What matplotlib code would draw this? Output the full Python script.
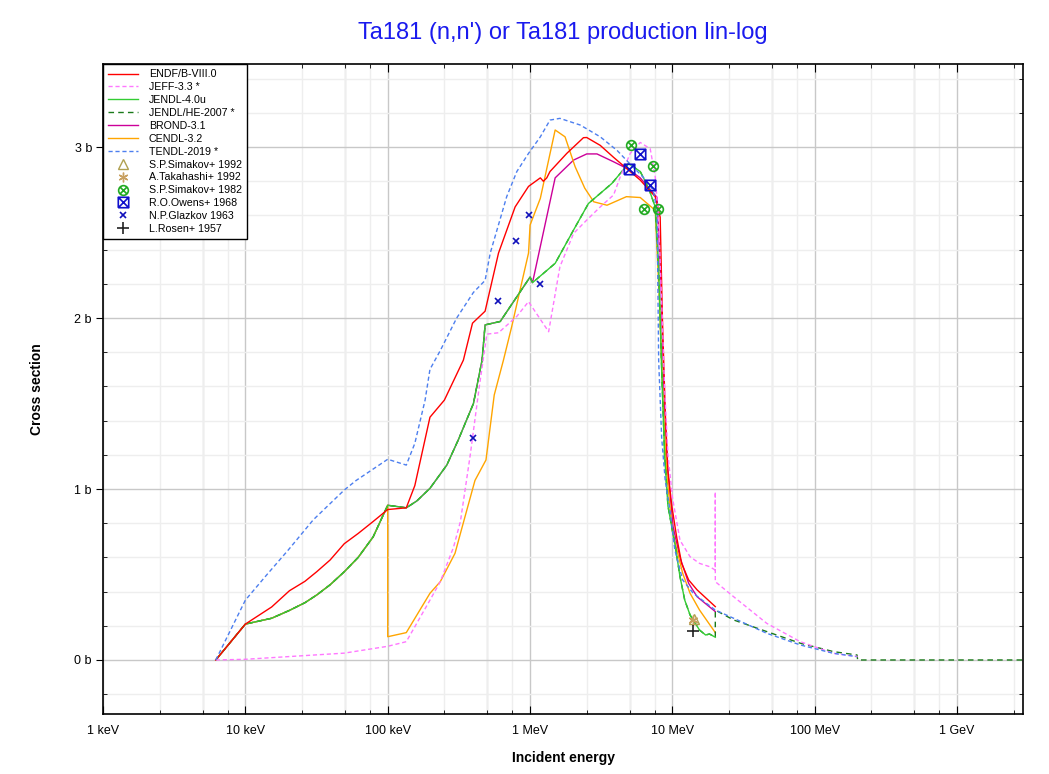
import numpy as np
import matplotlib
matplotlib.use("Agg")
import matplotlib.pyplot as plt
from matplotlib.path import Path
from matplotlib.ticker import FixedLocator, MultipleLocator, FuncFormatter

plt.rcParams['font.family'] = ['Liberation Sans', 'DejaVu Sans']

# ---------------- data (energy in eV, cross section in barn) ----------------
endf_e = [6.2e3, 1e4, 1.53e4, 2.04e4, 2.62e4, 3.17e4, 3.94e4, 4.95e4, 6.2e4, 7.9e4, 9.57e4, 1e5,
          1.35e5, 1.55e5, 1.98e5, 2.5e5, 3.4e5, 3.94e5, 4.83e5, 6.0e5, 7.85e5, 9.75e5, 1.18e6,
          1.24e6, 1.31e6, 1.38e6, 1.81e6, 2.37e6, 2.5e6, 3.11e6, 3.86e6, 4.92e6, 5.94e6, 7.57e6,
          8.2e6, 8.5e6, 8.9e6, 9.3e6, 9.9e6, 1.07e7, 1.16e7, 1.3e7, 1.49e7, 2.0e7]
endf_v = [0, 0.21, 0.31, 0.405, 0.46, 0.516, 0.585, 0.68, 0.74, 0.81, 0.867, 0.88,
          0.89, 1.02, 1.42, 1.52, 1.754, 1.97, 2.04, 2.38, 2.65, 2.77, 2.82,
          2.80, 2.82, 2.857, 2.963, 3.055, 3.056, 3.01, 2.94, 2.865, 2.807, 2.71,
          2.59, 2.0, 1.45, 1.1, 0.9, 0.72, 0.565, 0.468, 0.41, 0.312]

jeff_e = [6.2e3, 1e4, 4.95e4, 1e5, 1.35e5, 1.98e5, 2.34e5, 2.9e5, 3.24e5, 3.8e5, 4.4e5, 4.97e5,
          6.0e5, 8.07e5, 9.75e5, 1.35e6, 1.62e6, 2.02e6, 2.5e6, 3.11e6, 3.86e6, 4.3e6,
          5.05e6, 5.94e6, 6.98e6, 7.57e6, 7.97e6, 8.4e6, 8.8e6, 9.3e6, 1.0e7, 1.13e7, 1.33e7,
          1.55e7, 1.82e7, 2.0e7, 2.0e7, 2.0e7, 2.69e7, 4.6e7, 7.9e7, 1.35e8, 2.0e8]
jeff_v = [0, 0.004, 0.04, 0.08, 0.107, 0.35, 0.458, 0.66, 0.81, 1.2, 1.6, 1.906,
          1.914, 2.01, 2.096, 1.92, 2.30, 2.495, 2.573, 2.65, 2.72, 2.826,
          2.963, 3.027, 2.99, 2.826, 2.59, 2.1, 1.6, 1.2, 0.95, 0.70, 0.604,
          0.565, 0.546, 0.526, 0.984, 0.458, 0.37, 0.214, 0.107, 0.039, 0.02]

jendl4_e = [6.2e3, 1e4, 1.53e4, 2.04e4, 2.62e4, 3.17e4, 3.94e4, 4.95e4, 6.2e4, 7.9e4, 1e5, 1.35e5,
            1.6e5, 1.98e5, 2.6e5, 3.13e5, 4.0e5, 4.6e5, 4.83e5, 6.17e5, 1.0e6, 1.04e6, 1.5e6,
            2.02e6, 2.57e6, 3.75e6, 4.92e6, 5.94e6, 6.8e6, 7.57e6, 8.0e6, 8.4e6, 8.8e6, 9.3e6,
            1.04e7, 1.13e7, 1.22e7, 1.33e7, 1.55e7, 1.71e7, 1.82e7, 2.0e7]
jendl4_v = [0, 0.21, 0.244, 0.29, 0.335, 0.38, 0.44, 0.516, 0.60, 0.72, 0.905, 0.89,
            0.93, 1.004, 1.14, 1.287, 1.5, 1.754, 1.96, 1.98, 2.24, 2.207, 2.32,
            2.515, 2.67, 2.787, 2.904, 2.857, 2.76, 2.65, 2.3, 1.7, 1.2, 0.9,
            0.68, 0.487, 0.35, 0.263, 0.175, 0.146, 0.152, 0.133]

# JENDL/HE-2007: equal to JENDL-4.0u up to 20 MeV, then this tail
jhe_tail_e = [2.0e7, 2.69e7, 4.6e7, 7.9e7, 1.35e8, 1.98e8, 2.0e8, 3.0e9]
jhe_tail_v = [0.292, 0.234, 0.166, 0.098, 0.049, 0.029, 0.0, 0.0]

# BROND-3.1: equal to JENDL-4.0u up to 1.04 MeV, then this part
brond_hi_e = [1.5e6, 2.02e6, 2.5e6, 2.95e6, 3.86e6, 4.92e6, 5.94e6, 7.8e6, 8.3e6, 8.7e6, 9.2e6,
              1.01e7, 1.13e7, 1.3e7, 1.49e7, 2.0e7]
brond_hi_v = [2.82, 2.924, 2.96, 2.96, 2.914, 2.87, 2.82, 2.705, 2.2, 1.6, 1.15,
              0.78, 0.60, 0.448, 0.37, 0.283]

# CENDL-3.2: equal to JENDL-4.0u up to 100 keV, then this part
cendl_hi_e = [1e5, 1.35e5, 1.98e5, 2.34e5, 2.97e5, 3.24e5, 4.1e5, 4.9e5, 5.6e5, 6.5e5, 7.43e5,
              8.48e5, 9.75e5, 1.0e6, 1.18e6, 1.5e6, 1.76e6, 2.07e6, 2.42e6, 2.8e6, 3.47e6, 4.75e6,
              5.94e6, 7.57e6, 8.1e6, 8.6e6, 9.1e6, 1.0e7, 1.18e7, 1.33e7, 1.55e7, 2.0e7]
cendl_hi_v = [0.136, 0.16, 0.39, 0.458, 0.624, 0.74, 1.05, 1.17, 1.55, 1.754, 1.95,
              2.16, 2.38, 2.544, 2.70, 3.10, 3.06, 2.886, 2.76, 2.68, 2.66, 2.71,
              2.705, 2.63, 2.1, 1.5, 1.1, 0.75, 0.507, 0.39, 0.292, 0.16]

tendl_e = [6.2e3, 1e4, 1.42e4, 2e4, 3e4, 4.95e4, 6e4, 1e5, 1.35e5, 1.55e5, 1.83e5, 1.98e5, 2.34e5,
           3.05e5, 4.0e5, 4.83e5, 5.25e5, 6.85e5, 8.07e5, 9.75e5, 1.18e6, 1.38e6, 1.62e6, 2.25e6,
           3.11e6, 4.09e6, 5.05e6, 6.2e6, 7.3e6, 7.8e6, 8.0e6, 8.4e6, 8.9e6, 9.6e6, 1.04e7,
           1.18e7, 1.4e7, 2.0e7, 2.69e7, 4.6e7, 7.9e7, 1.35e8, 1.96e8]
tendl_v = [0, 0.35, 0.50, 0.643, 0.82, 0.994, 1.05, 1.174, 1.14, 1.267, 1.52, 1.7, 1.81,
           2.0, 2.15, 2.22, 2.38, 2.71, 2.857, 2.963, 3.06, 3.158, 3.168, 3.129,
           3.06, 2.98, 2.90, 2.826, 2.75, 2.63, 1.754, 1.3, 1.05, 0.877, 0.643,
           0.468, 0.39, 0.292, 0.244, 0.156, 0.088, 0.039, 0.02]

# experimental points
simakov92_e, simakov92_v = [1.41e7], [0.24]
takahashi_e, takahashi_v = [1.40e7], [0.235]
simakov82_e = [5.1e6, 6.34e6, 7.3e6, 7.98e6]
simakov82_v = [3.01, 2.64, 2.89, 2.64]
owens_e = [4.92e6, 5.87e6, 6.9e6]
owens_v = [2.87, 2.96, 2.78]
glazkov_e = [3.98e5, 5.93e5, 7.95e5, 9.86e5, 1.18e6]
glazkov_v = [1.30, 2.10, 2.45, 2.60, 2.20]
rosen_e, rosen_v = [1.40e7], [0.171]

xtick_vals = [1e3, 1e4, 1e5, 1e6, 1e7, 1e8, 1e9]
xtick_labels = ["1 keV", "10 keV", "100 keV", "1 MeV", "10 MeV", "100 MeV", "1 GeV"]
ytick_vals = [0, 1, 2, 3]
ytick_labels = ["0 b", "1 b", "2 b", "3 b"]

# ---------------- derived series ----------------
j4e = np.array(jendl4_e); j4v = np.array(jendl4_v)
m20 = j4e <= 2.0e7
jhe_e = np.concatenate([j4e[m20], jhe_tail_e])
jhe_v = np.concatenate([j4v[m20], jhe_tail_v])
mb = j4e <= 1.04e6
brond_e = np.concatenate([j4e[mb], brond_hi_e])
brond_v = np.concatenate([j4v[mb], brond_hi_v])
mc = j4e <= 1e5
cendl_e = np.concatenate([j4e[mc], cendl_hi_e])
cendl_v = np.concatenate([j4v[mc], cendl_hi_v])

# ---------------- figure ----------------
fig = plt.figure(figsize=(10.49, 7.74), dpi=100)
ax = fig.add_axes([103/1049, 1-714/774, 920/1049, 650/774])
ax.set_xscale('log')
ax.set_xlim(1e3, 2.9e9)
ax.set_ylim(-0.316, 3.486)

# grid
ax.xaxis.set_major_locator(FixedLocator(xtick_vals))
minor_x = [m*10.0**k for k in range(3, 10) for m in (2.5, 5, 7.5)]
ax.xaxis.set_minor_locator(FixedLocator(minor_x))
ax.xaxis.set_major_formatter(FuncFormatter(lambda v, p: dict(zip(xtick_vals, xtick_labels)).get(v, "")))
ax.xaxis.set_minor_formatter(FuncFormatter(lambda v, p: ""))
ax.yaxis.set_major_locator(FixedLocator(ytick_vals))
ax.yaxis.set_major_formatter(FuncFormatter(lambda v, p: dict(zip(ytick_vals, ytick_labels)).get(int(round(v)), "")))
ax.yaxis.set_minor_locator(MultipleLocator(0.2))

ax.grid(which='major', color='#c8c8c8', lw=1.0, zorder=0)
ax.grid(which='minor', color='#eeeeee', lw=1.0, zorder=0)
for k in range(3, 10):
    ax.axvline(5*10.0**k, color='#d4d4d4', lw=1.0, zorder=0.5)
ax.set_axisbelow(True)

ax.tick_params(axis='x', which='both', direction='in', top=True, labelsize=9, pad=8)
ax.tick_params(axis='x', which='major', length=6)
ax.tick_params(axis='x', which='minor', length=3)
ax.tick_params(axis='y', which='major', direction='out', length=5, labelsize=9, pad=3)
ax.tick_params(axis='y', which='minor', direction='in', length=3, right=True)
for s in ax.spines.values():
    s.set_linewidth(1.2)
    s.set_color('black')

lw = 1.0
ax.plot(endf_e, endf_v, color='#ff0000', lw=lw, label='ENDF/B-VIII.0', zorder=2.4)
ax.plot(jeff_e, jeff_v, color='#ff77ff', lw=lw, ls=(0, (3, 2)), label='JEFF-3.3 *', zorder=2.5)
ax.plot(jendl4_e, jendl4_v, color='#33cc33', lw=lw, label='JENDL-4.0u', zorder=2.2)
ax.plot(jhe_e, jhe_v, color='#1a7a1a', lw=lw, ls=(0, (4, 3)), label='JENDL/HE-2007 *', zorder=2.15)
ax.plot(brond_e, brond_v, color='#cc0099', lw=lw, label='BROND-3.1', zorder=2.0)
ax.plot(cendl_e, cendl_v, color='#ffa500', lw=lw, label='CENDL-3.2', zorder=2.1)
ax.plot(tendl_e, tendl_v, color='#4d7fef', lw=lw, ls=(0, (3, 2)), label='TENDL-2019 *', zorder=2.6)

V = Path.MOVETO; L = Path.LINETO
cross = Path([[-0.707, -0.707], [0.707, 0.707], [-0.707, 0.707], [0.707, -0.707]], [V, L, V, L])
circ_x = Path.make_compound_path(Path.unit_circle(), cross)
box = Path([[-1, -1], [1, -1], [1, 1], [-1, 1], [-1, -1]], [V, L, L, L, L])
bcross = Path([[-1, -1], [1, 1], [-1, 1], [1, -1]], [V, L, V, L])
box_x = Path.make_compound_path(box, bcross)

ax.plot(simakov92_e, simakov92_v, ls='none', marker='^', ms=6.5, mfc='none', mec='#b0a050', mew=1.0,
        label='S.P.Simakov+ 1992', zorder=3)
ax.plot(takahashi_e, takahashi_v, ls='none', marker=(6, 2, 0), ms=7, mec='#c8a060', mew=1.0,
        label='A.Takahashi+ 1992', zorder=3)
ax.plot(simakov82_e, simakov82_v, ls='none', marker=circ_x, ms=7, mfc='none', mec='#22aa22', mew=1.2,
        label='S.P.Simakov+ 1982', zorder=3)
ax.plot(owens_e, owens_v, ls='none', marker=box_x, ms=7.5, mfc='none', mec='#1010cc', mew=1.2,
        label='R.O.Owens+ 1968', zorder=3)
ax.plot(glazkov_e, glazkov_v, ls='none', marker='x', ms=5, mec='#1010bb', mew=1.2,
        label='N.P.Glazkov 1963', zorder=3)
ax.plot(rosen_e, rosen_v, ls='none', marker='+', ms=8, mec='#222222', mew=1.2,
        label='L.Rosen+ 1957', zorder=3)

leg = ax.legend(loc='upper left', bbox_to_anchor=(0, 1), fontsize=7.7, frameon=True, fancybox=False,
                edgecolor='black', framealpha=1, borderaxespad=0, handlelength=2.8,
                handletextpad=1.0, labelspacing=0.27, borderpad=0.5)
leg.get_frame().set_linewidth(1.0)
leg.set_zorder(5)

fig.text(563/1049, 1-33/774, "Ta181 (n,n') or Ta181 production lin-log", ha='center', va='center',
         fontsize=17, color='#1a1aee')
fig.text(563/1049, 1-758/774, "Incident energy", ha='center', va='center', fontsize=10, fontweight='bold')
fig.text(37/1049, 1-389/774, "Cross section", ha='center', va='center', rotation=90, fontsize=10,
         fontweight='bold')

fig.savefig('out.png', dpi=100)
